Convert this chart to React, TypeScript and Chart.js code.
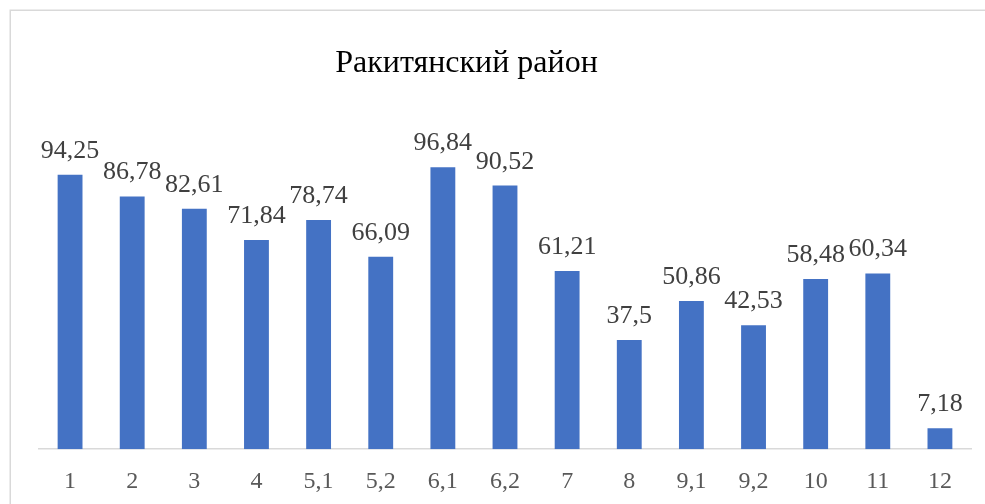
import React, { useEffect, useRef } from "react";
import { Chart, registerables } from "chart.js";

Chart.register(...registerables);

const categories = ["1", "2", "3", "4", "5,1", "5,2", "6,1", "6,2", "7", "8", "9,1", "9,2", "10", "11", "12"];
const values = [94.25, 86.78, 82.61, 71.84, 78.74, 66.09, 96.84, 90.52, 61.21, 37.5, 50.86, 42.53, 58.48, 60.34, 7.18];
const titleText = "Ракитянский район";

const SERIF = "'Liberation Serif', 'Times New Roman', serif";

const frameAndTitle = {
  id: "frameAndTitle",
  beforeDraw(chart: any) {
    const ctx = chart.ctx;
    ctx.save();
    ctx.fillStyle = "#ffffff";
    ctx.fillRect(0, 0, chart.width, chart.height);
    ctx.strokeStyle = "#d9d9d9";
    ctx.lineWidth = 1.5;
    ctx.strokeRect(10.25, 10.25, 1200, 1200);
    ctx.restore();
  },
  afterDraw(chart: any) {
    const ctx = chart.ctx;
    ctx.save();
    ctx.font = `32px ${SERIF}`;
    ctx.fillStyle = "#000000";
    ctx.textAlign = "center";
    ctx.textBaseline = "middle";
    ctx.fillText(titleText, 466.5, 64);
    ctx.restore();
  },
};

const dataLabels = {
  id: "dataLabels",
  afterDatasetsDraw(chart: any) {
    const ctx = chart.ctx;
    const meta = chart.getDatasetMeta(0);
    ctx.save();
    ctx.font = `26px ${SERIF}`;
    ctx.fillStyle = "#404040";
    ctx.textAlign = "center";
    ctx.textBaseline = "alphabetic";
    meta.data.forEach((bar: any, i: number) => {
      const txt = String(values[i]).replace(".", ",");
      ctx.fillText(txt, bar.x, bar.y - 17);
    });
    ctx.restore();
  },
};

export default function App() {
  const ref = useRef<HTMLCanvasElement | null>(null);
  useEffect(() => {
    if (!ref.current) return;
    const chart = new Chart(ref.current, {
      type: "bar",
      data: {
        labels: categories,
        datasets: [
          {
            data: values,
            backgroundColor: "#4472C4",
            categoryPercentage: 1,
            barPercentage: 0.4,
          },
        ],
      },
      options: {
        responsive: false,
        animation: false,
        layout: { padding: { left: 39, right: 14, top: 158, bottom: 12 } },
        plugins: { legend: { display: false }, title: { display: false }, tooltip: { enabled: false } },
        scales: {
          x: {
            grid: { display: false, drawTicks: false },
            border: { display: true, color: "#d9d9d9", width: 1.5 },
            ticks: { color: "#595959", font: { family: SERIF, size: 24 }, padding: 18, maxRotation: 0, autoSkip: false },
          },
          y: { display: false, min: 0, max: 100 },
        },
      },
      plugins: [frameAndTitle, dataLabels],
    });
    return () => chart.destroy();
  }, []);
  return (
    <div style={{ position: "fixed", left: 0, top: 0, width: 985, height: 504, background: "#fff", overflow: "hidden" }}>
      <canvas ref={ref} width={985} height={526} style={{ display: "block" }} />
    </div>
  );
}
